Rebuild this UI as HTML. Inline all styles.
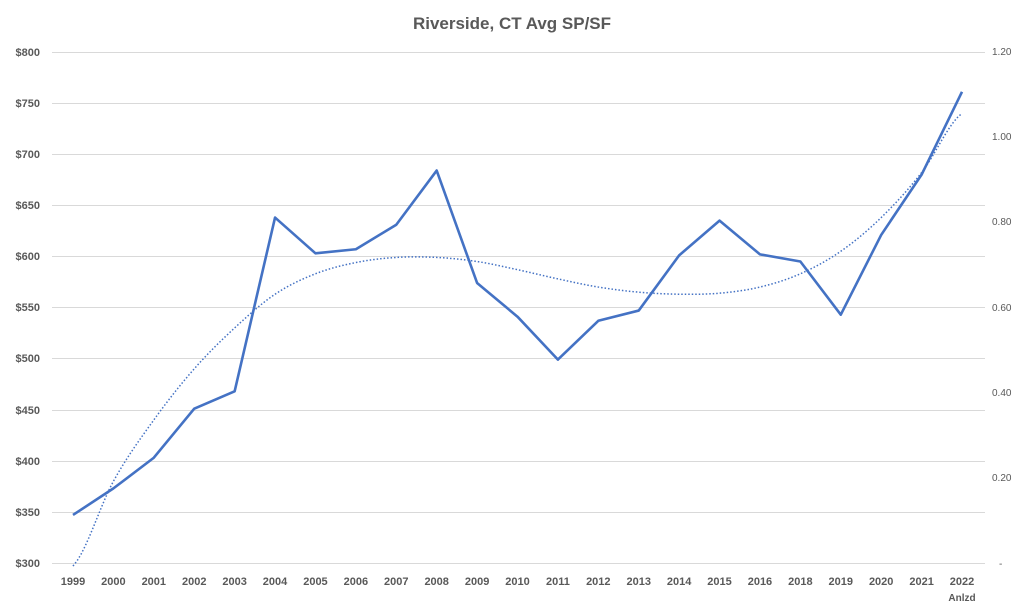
<!DOCTYPE html>
<html><head><meta charset="utf-8"><style>
body{margin:0;background:#fff;}
svg{display:block;font-family:"Liberation Sans",sans-serif;}
</style></head><body>
<svg width="1024" height="613" viewBox="0 0 1024 613" xmlns="http://www.w3.org/2000/svg">
<rect width="1024" height="613" fill="#fff"/>
<text x="512" y="29" text-anchor="middle" font-size="17" font-weight="bold" fill="#595959">Riverside, CT Avg SP/SF</text>
<g stroke="#d9d9d9" stroke-width="1">
<line x1="52" x2="985" y1="52.5" y2="52.5"/><line x1="52" x2="985" y1="103.5" y2="103.5"/>
<line x1="52" x2="985" y1="154.5" y2="154.5"/><line x1="52" x2="985" y1="205.5" y2="205.5"/>
<line x1="52" x2="985" y1="256.5" y2="256.5"/><line x1="52" x2="985" y1="307.5" y2="307.5"/>
<line x1="52" x2="985" y1="358.5" y2="358.5"/><line x1="52" x2="985" y1="410.5" y2="410.5"/>
<line x1="52" x2="985" y1="461.5" y2="461.5"/><line x1="52" x2="985" y1="512.5" y2="512.5"/>
<line x1="52" x2="985" y1="563.5" y2="563.5"/>
</g>
<g font-size="11" font-weight="bold" fill="#595959" text-anchor="end">
<text x="40" y="56">$800</text><text x="40" y="107">$750</text><text x="40" y="158">$700</text>
<text x="40" y="209">$650</text><text x="40" y="260">$600</text><text x="40" y="311">$550</text>
<text x="40" y="362">$500</text><text x="40" y="414">$450</text><text x="40" y="465">$400</text>
<text x="40" y="516">$350</text><text x="40" y="567">$300</text>
</g>
<g font-size="10" fill="#595959">
<text x="992" y="55">1.20</text><text x="992" y="140">1.00</text><text x="992" y="225">0.80</text>
<text x="992" y="311">0.60</text><text x="992" y="396">0.40</text><text x="992" y="481">0.20</text>
<text x="999" y="567">-</text>
</g>
<g font-size="11" font-weight="bold" fill="#595959" text-anchor="middle" id="xl"></g>
<polyline id="trend" fill="none" stroke="#4472c4" stroke-width="1.5" stroke-dasharray="1.5,2"/>
<polyline id="data" fill="none" stroke="#4472c4" stroke-width="2.6" stroke-linejoin="round"/>
<text x="962" y="601" font-size="10" font-weight="bold" fill="#595959" text-anchor="middle">Anlzd</text>
</svg>
<script>
var labels=["1999","2000","2001","2002","2003","2004","2005","2006","2007","2008","2009","2010","2011","2012","2013","2014","2015","2016","2018","2019","2020","2021","2022"];
var d=[347,373,403,451,468,638,603,607,631,684,574,541,499,537,547,601,635,602,595,543,621,680,761];
var t=[297,380,440,490,530,563,583,594,599,599,595,587,578,570,565,563,564,570,583,605,638,682,740];
function X(i){return 73+i*(962-73)/22;}function Y(v){return 563-(v-300)*1.022;}
var g=document.getElementById('xl'),s='';
labels.forEach(function(l,i){s+='<text x="'+X(i)+'" y="585">'+l+'</text>';});g.innerHTML=s;
document.getElementById('data').setAttribute('points',d.map(function(v,i){return X(i)+','+Y(v);}).join(' '));
var pts=[];for(var i=0;i<22;i++){for(var k=0;k<10;k++){var f=k/10;var p0=t[Math.max(i-1,0)],p1=t[i],p2=t[i+1],p3=t[Math.min(i+2,22)];
var v=0.5*((2*p1)+(-p0+p2)*f+(2*p0-5*p1+4*p2-p3)*f*f+(-p0+3*p1-3*p2+p3)*f*f*f);pts.push((X(i)+f*(X(1)-X(0)))+','+Y(v));}}
pts.push(X(22)+','+Y(t[22]));
document.getElementById('trend').setAttribute('points',pts.join(' '));
</script>
</body></html>
